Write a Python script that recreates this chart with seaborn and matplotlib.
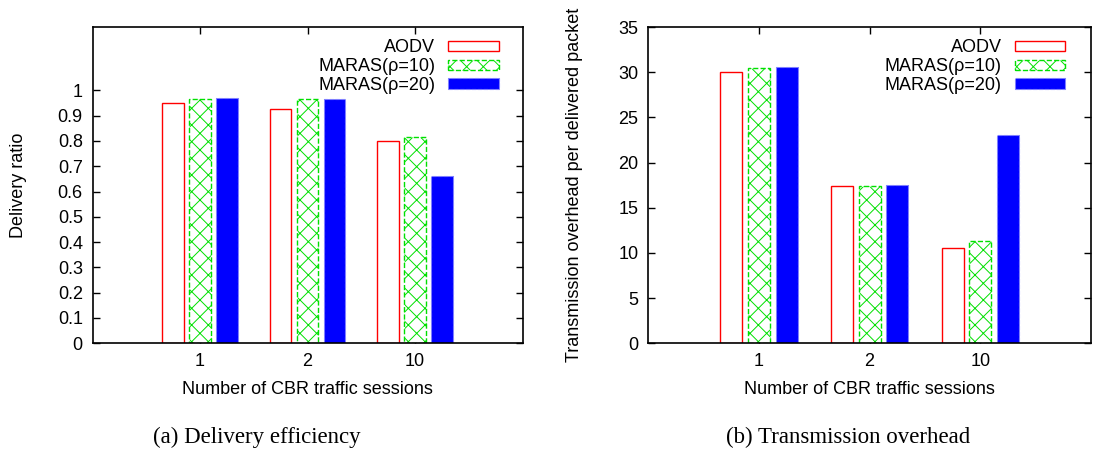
import pandas as pd
import numpy as np
import matplotlib.pyplot as plt
import seaborn as sns
from matplotlib.patches import Patch

# data
sessions = ['1', '2', '10']
protocols = ['AODV', 'MARAS(ρ=10)', 'MARAS(ρ=20)']

delivery_aodv = [0.949, 0.927, 0.800]
delivery_maras10 = [0.966, 0.966, 0.817]
delivery_maras20 = [0.968, 0.966, 0.662]

overhead_aodv = [30.0, 17.45, 10.6]
overhead_maras10 = [30.5, 17.45, 11.35]
overhead_maras20 = [30.6, 17.55, 23.0]


def long_table(a, b, c):
    rows = []
    for vals, name in zip([a, b, c], protocols):
        for s, v in zip(sessions, vals):
            rows.append({'sessions': s, 'protocol': name, 'value': v})
    return pd.DataFrame(rows)


df_delivery = long_table(delivery_aodv, delivery_maras10, delivery_maras20)
df_overhead = long_table(overhead_aodv, overhead_maras10, overhead_maras20)

sns.set_style('ticks')
plt.rcParams['font.family'] = ['Liberation Sans', 'DejaVu Sans']
plt.rcParams['hatch.linewidth'] = 0.7
for k in ['text.color', 'axes.labelcolor', 'xtick.color', 'ytick.color', 'axes.edgecolor']:
    plt.rcParams[k] = 'black'
FS = 13

# per-series bar styles (gnuplot look)
styles = [
    dict(facecolor='white', edgecolor='#ff0000', linestyle='-', linewidth=1.0, hatch=None),
    dict(facecolor='white', edgecolor='#00e000', linestyle='--', linewidth=1.0, hatch='xx'),
    dict(facecolor='#0000ff', edgecolor='#8080ff', linestyle='--', linewidth=0.8, hatch=None),
]

fig = plt.figure(figsize=(10.96, 4.55), dpi=100)
ax1 = fig.add_axes([0.0844, 0.2455, 0.3925, 0.695])
ax2 = fig.add_axes([0.5915, 0.2455, 0.4039, 0.695])


def draw(ax, df, ylim, yticks, ylabels, ylabel, ylab_x, leg_x):
    sns.barplot(data=df, x='sessions', y='value', hue='protocol', order=sessions,
                hue_order=protocols, width=0.75, gap=0.2, errorbar=None,
                legend=False, ax=ax)
    for cont, st in zip(ax.containers, styles):
        for p in cont.patches:
            p.set_facecolor(st['facecolor'])
            p.set_edgecolor(st['edgecolor'])
            p.set_linestyle(st['linestyle'])
            p.set_linewidth(st['linewidth'])
            if st['hatch']:
                p.set_hatch(st['hatch'])
    ax.set_xlim(-1, 3)
    ax.set_ylim(*ylim)
    ax.set_yticks(yticks)
    ax.set_yticklabels(ylabels)
    ax.tick_params(direction='in', length=5, width=1.0, top=True, right=True,
                   labelsize=FS, pad=7, colors='black')
    for sp in ax.spines.values():
        sp.set_visible(True)
        sp.set_linewidth(1.2)
        sp.set_color('black')
    ax.set_xlabel('Number of CBR traffic sessions', fontsize=FS)
    ax.xaxis.label.set_va('center')
    ax.xaxis.set_label_coords(0.5, -0.145)
    ax.set_ylabel(ylabel, fontsize=FS)
    ax.yaxis.label.set_va('center')
    ax.yaxis.set_label_coords(ylab_x, 0.5)

    handles = [Patch(facecolor=st['facecolor'], edgecolor=st['edgecolor'],
                     linestyle=st['linestyle'], linewidth=st['linewidth'],
                     hatch=st['hatch'], label=name)
               for st, name in zip(styles, protocols)]
    ax.legend(handles=handles, loc='upper right', bbox_to_anchor=(leg_x, 0.99),
              frameon=False, markerfirst=False, fontsize=FS, handlelength=2.8,
              handleheight=0.5, labelspacing=0.1, handletextpad=0.7, borderpad=0)


draw(ax1, df_delivery, (0, 1.25), np.arange(0, 1.01, 0.1),
     ['0', '0.1', '0.2', '0.3', '0.4', '0.5', '0.6', '0.7', '0.8', '0.9', '1'],
     'Delivery ratio', -0.173, 0.965)
draw(ax2, df_overhead, (0, 35), np.arange(0, 36, 5),
     [str(v) for v in range(0, 36, 5)],
     'Transmission overhead per delivered packet', -0.166, 0.962)

fig.text(257 / 1096, 1 - 437 / 455, '(a) Delivery efficiency', ha='center', va='center',
         fontsize=16.5, family=['Liberation Serif', 'DejaVu Serif'])
fig.text(848 / 1096, 1 - 437 / 455, '(b) Transmission overhead', ha='center', va='center',
         fontsize=16.5, family=['Liberation Serif', 'DejaVu Serif'])

fig.savefig('out.png', dpi=100)
